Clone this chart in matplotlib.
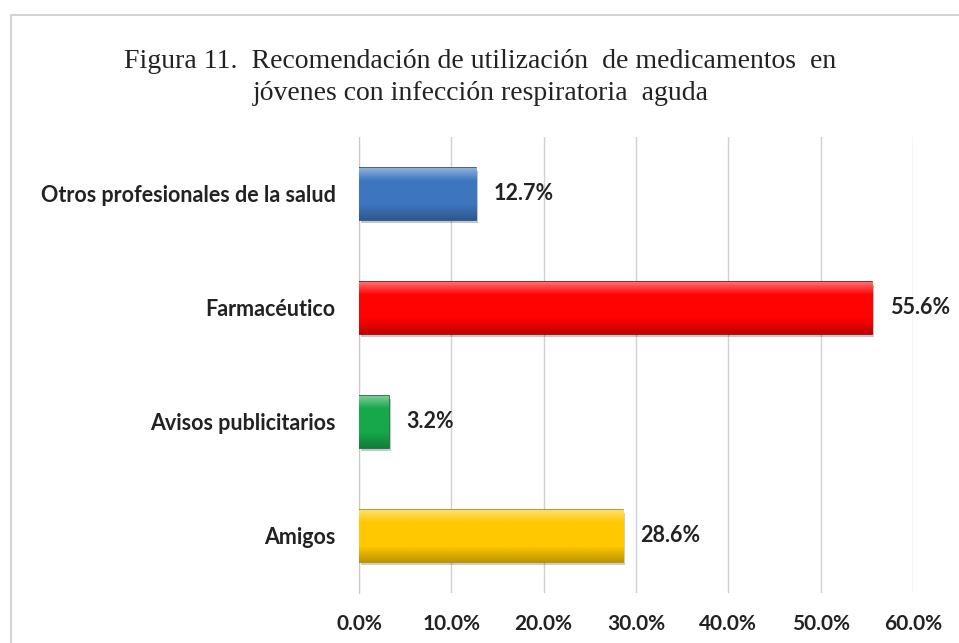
import numpy as np
import matplotlib.pyplot as plt
import matplotlib.patheffects as pe
from matplotlib.patches import Rectangle
from matplotlib.colors import to_rgb

# datos de la figura
categorias = ["Amigos", "Avisos publicitarios", "Farmacéutico", "Otros profesionales de la salud"]
porcentajes = [28.6, 3.2, 55.6, 12.7]
colores = ["#FFC800", "#17A84C", "#FF0303", "#3D76BF"]
bordes = ["#B08A00", "#0B6B2E", "#8E0000", "#1F4A80"]
ticks = [0, 10, 20, 30, 40, 50, 60]

fig = plt.figure(figsize=(9.59, 6.43), dpi=100)

# marco exterior gris claro
fig.add_artist(Rectangle((11 / 959, -0.05), 1.0, 1 - 15 / 643 + 0.05, transform=fig.transFigure,
                         fill=False, edgecolor="#D4D4D4", linewidth=1.5))

ax = fig.add_axes([359 / 959, 50 / 643, 554 / 959, 456 / 643])

y = range(len(categorias))
barras = ax.barh(y, porcentajes, height=0.46, color=colores, edgecolor=bordes, linewidth=1.2, zorder=3)
for b in barras:
    b.set_path_effects([pe.SimplePatchShadow(offset=(1.5, -2), alpha=0.25), pe.Normal()])

# degradado tipo "bisel": claro arriba, oscuro abajo
for b, c in zip(barras, colores):
    base = np.array(to_rgb(c))
    n = 64
    grad = np.empty((n, 1, 3))
    for k in range(n):
        s = k / (n - 1)          # 0 = arriba, 1 = abajo
        if s < 0.25:
            f = 0.45 * (1 - s / 0.25)
            grad[k, 0] = base + (1 - base) * f
        else:
            f = 0.25 * max(0, (s - 0.7) / 0.3)
            grad[k, 0] = base * (1 - f)
    x0, y0 = b.get_x(), b.get_y()
    w, h = b.get_width(), b.get_height()
    im = ax.imshow(grad, extent=(x0, x0 + w, y0, y0 + h), aspect="auto", zorder=3.5,
                   interpolation="bilinear")
    im.set_clip_path(b)

# etiquetas de valor
for i, v in enumerate(porcentajes):
    ax.text(v + 1.9, i, f"{v:.1f}%", va="center", ha="left",
            fontsize=15.5, fontweight="bold", family="Lato", color="#222222")

ax.set_xlim(0, 60)
ax.set_ylim(-0.5, len(categorias) - 0.5)
ax.set_xticks(ticks)
ax.set_xticklabels([f"{t:.1f}%" for t in ticks], fontsize=15, fontweight="bold",
                   family="Lato", color="#222222")
ax.set_yticks(list(y))
ax.set_yticklabels(categorias, fontsize=15.5, fontweight="bold", family="Lato", color="#222222")
ax.tick_params(axis="x", length=0, pad=15)
ax.tick_params(axis="y", length=0, pad=17)

ax.xaxis.grid(True, color="#D0D0D0", linewidth=1, zorder=0)
for s in ["top", "right", "bottom"]:
    ax.spines[s].set_visible(False)
ax.spines["left"].set_color("#C8C8C8")

fig.text(0.501, 1 - 62 / 643, "Figura 11.  Recomendación de utilización  de medicamentos  en",
         ha="center", va="center", fontsize=20, family="Liberation Serif", color="#222222")
fig.text(0.501, 1 - 93 / 643, "jóvenes con infección respiratoria  aguda",
         ha="center", va="center", fontsize=20, family="Liberation Serif", color="#222222")

fig.savefig("out.png", dpi=100)
